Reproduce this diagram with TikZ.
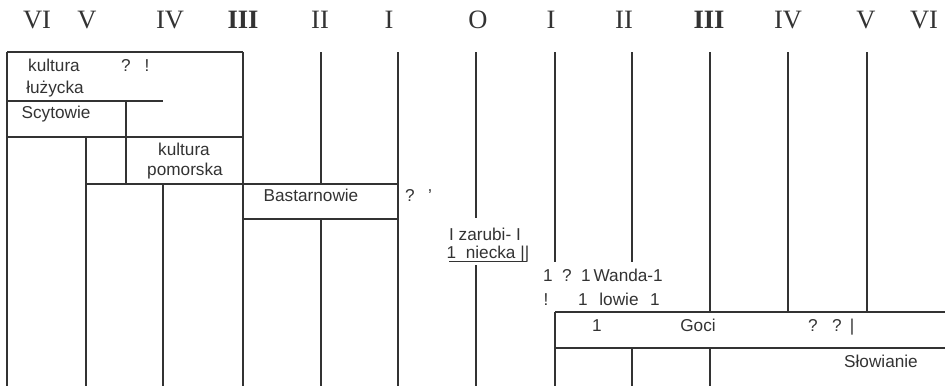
\documentclass[tikz,border=0pt]{standalone}
\usepackage{fontspec}
\setmainfont{Liberation Serif}
\setsansfont{Liberation Sans}
\usepackage{tikz}
\definecolor{ink}{HTML}{333333}

\begin{document}
\begin{tikzpicture}[x=1pt,y=-1pt,
    numeral/.style={font=\rmfamily\fontsize{26.5}{31}\selectfont,text=ink,inner sep=0pt,anchor=base},
    lbl/.style={font=\sffamily\fontsize{17.2}{20}\selectfont,text=ink,inner sep=0pt,anchor=base},
    rule/.style={draw=ink,line width=2pt}]
    \useasboundingbox (0,0) rectangle (945,386);
    % centuries
    \foreach \x/\t/\n in {37/VI/l6,87/V/l5,170/IV/l4,243/{\textbf{III}}/l3,320/II/l2,389/I/l1,
        478/O/o,551/I/r1,624/II/r2,709/{\textbf{III}}/r3,788/IV/r4,866/V/r5,924/VI/r6}
      \node[numeral] (\n) at (\x,28) {\t};
    % grid
    \draw[rule] (7,52) -- (243,52);
    \draw[rule] (7,101) -- (163,101);
    \draw[rule] (7,137) -- (243,137);
    \draw[rule] (86,184) -- (398,184);
    \draw[rule] (243,219) -- (398,219);
    \draw[rule] (555,312) -- (945,312);
    \draw[rule] (555,348) -- (945,348);
    \draw[rule] (7,52) -- (7,386);
    \draw[rule] (86,137) -- (86,386);
    \draw[rule] (126,101) -- (126,184);
    \draw[rule] (163,184) -- (163,386);
    \draw[rule] (243,52) -- (243,386);
    \draw[rule] (321,52) -- (321,184) (321,219) -- (321,386);
    \draw[rule] (398,52) -- (398,386);
    \draw[rule] (476,52) -- (476,218) (476,265) -- (476,386);
    \draw[rule] (555,52) -- (555,262) (555,312) -- (555,386);
    \draw[rule] (632,52) -- (632,262) (632,348) -- (632,386);
    \draw[rule] (710,52) -- (710,312) (710,348) -- (710,386);
    \draw[rule] (788,52) -- (788,312);
    \draw[rule] (867,52) -- (867,312);
    % peoples
    \node[lbl] (kult1) at (54,71) {kultura};
    \node[lbl] (q1) at (126,71) {?};
    \node[lbl] (ex1) at (147,71) {!};
    \node[lbl] (luz) at (55,93) {łużycka};
    \node[lbl] (scyt) at (56,118) {Scytowie};
    \node[lbl] (kult2) at (184,155) {kultura};
    \node[lbl] (pom) at (185,175) {pomorska};
    \node[lbl] (bast) at (311,201) {Bastarnowie};
    \node[lbl] (q2) at (410,201) {?};
    \node[lbl] (ap) at (430,201) {'};
    \node[lbl] (zar) at (485,240) {I zarubi- I};
    \node[lbl] (niec) at (488,258) {1\ \ niecka ||};
    \draw[draw=ink,line width=1.4pt] (449,261.5) -- (527,261.5);
    \node[lbl] (w1) at (548,281) {1};
    \node[lbl] (q3) at (567,281) {?};
    \node[lbl,anchor=base west] (wan) at (581,281) {1\,Wanda-1};
    \node[lbl] (ex2) at (546,305) {!};
    \node[lbl] (w2) at (583,305) {1};
    \node[lbl] (low) at (619,305) {lowie};
    \node[lbl] (w3) at (655,305) {1};
    \node[lbl] (g1) at (597,331) {1};
    \node[lbl] (goci) at (698,331) {Goci};
    \node[lbl] (q4) at (813,331) {?};
    \node[lbl] (q5) at (837,331) {?};
    \node[lbl] (bar) at (852,331) {|};
    \node[lbl] (slow) at (881,367) {Słowianie};
\end{tikzpicture}
\end{document}
